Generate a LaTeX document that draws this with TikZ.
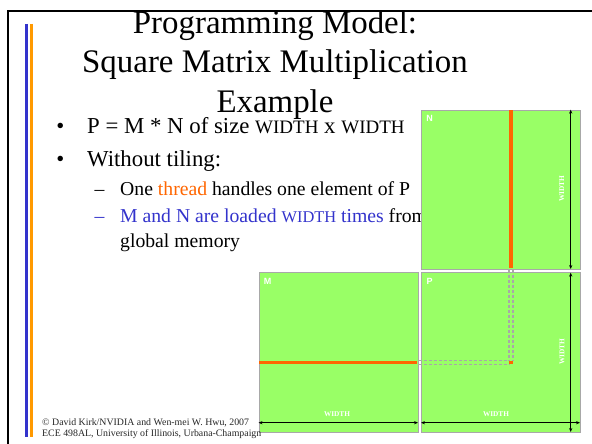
\documentclass[tikz,border=0pt]{standalone}
\usepackage{fontspec}
\setmainfont{Liberation Serif}
\newfontfamily\lblfont{Liberation Sans}
\usetikzlibrary{arrows.meta}
\definecolor{boxgreen}{HTML}{99FF66}
\definecolor{boxgray}{HTML}{A8A8A8}
\definecolor{hiorange}{HTML}{FF6600}
\definecolor{txtblue}{HTML}{3333CC}
\definecolor{barorange}{HTML}{FF9900}
\newcommand\wsmall[1]{{\fontsize{19}{19}\selectfont #1}}
\newcommand\wsub[1]{{\fontsize{16.4}{16.4}\selectfont #1}}
\begin{document}
\begin{tikzpicture}[x=1pt,y=-1pt,
  titletxt/.style={inner sep=0pt, anchor=base, font=\fontsize{32.9}{39}\selectfont},
  bultxt/.style={inner sep=0pt, anchor=base west, font=\fontsize{22.8}{27}\selectfont},
  bulmark/.style={inner sep=0pt, anchor=base, font=\fontsize{22.8}{27}\selectfont},
  subtxt/.style={inner sep=0pt, anchor=base west, font=\fontsize{19.7}{24}\selectfont},
  submark/.style={inner sep=0pt, anchor=base, font=\fontsize{19.7}{24}\selectfont},
  foot/.style={inner sep=0pt, anchor=base west, font=\fontsize{9.85}{10}\selectfont, text=black!85},
  mat/.style={fill=boxgreen, draw=boxgray, line width=1.2pt, inner sep=0pt, anchor=north west},
  boxlbl/.style={inner sep=0pt, text=white, font=\lblfont\bfseries\fontsize{9}{9}\selectfont},
  wlbl/.style={inner sep=0pt, text=white, font=\bfseries\fontsize{7.3}{7.3}\selectfont},
  dimarrow/.style={draw=black, line width=0.9pt, {Stealth[length=4pt,width=3.2pt]}-{Stealth[length=4pt,width=3.2pt]}},
  guide/.style={draw=boxgray, line width=1.1pt, dash pattern=on 3pt off 2pt},
  hilite/.style={fill=hiorange}
]
\useasboundingbox (0,0) rectangle (592,444);
\clip (0,0) rectangle (592,444);
\fill[white] (0,0) rectangle (592,444);
% frame
\draw[line width=2pt] (8,11) rectangle (610,470);
% side bars
\draw[txtblue, line width=2.6pt] (26.5,24) -- (26.5,436.7);
\draw[barorange, line width=2.6pt] (31.2,24) -- (31.2,436.7);
% title
\node[titletxt] (t1) at (275,34) {Programming Model:};
\node[titletxt] (t2) at (275,73) {Square Matrix Multiplication};
\node[titletxt] (t3) at (275,112) {Example};
% bullets
\node[bulmark] (b1m) at (60.3,133) {•};
\node[bultxt] (b1) at (87,133) {P = M * N of size \wsmall{WIDTH} x \wsmall{WIDTH}};
\node[bulmark] (b2m) at (60.3,166) {•};
\node[bultxt] (b2) at (87,166) {Without tiling:};
\node[submark] (s1m) at (99.5,195) {–};
\node[subtxt] (s1) at (120,195) {One \textcolor{hiorange}{thread} handles one element of P};
\node[submark, text=txtblue] (s2m) at (99.5,222) {–};
\node[subtxt, text=txtblue] (s2) at (120,222) {M and N are loaded \wsub{WIDTH} times \textcolor{black}{from}};
\node[subtxt] (s3) at (120,247.5) {global memory};
% matrices
\node[mat, minimum width=159pt, minimum height=159.5pt] (N) at (420.5,109.5) {};
\node[mat, minimum width=159.5pt, minimum height=160pt] (M) at (258.5,272.2) {};
\node[mat, minimum width=159.5pt, minimum height=160pt] (P) at (420.5,272.2) {};
% highlighted column and row
\fill[hilite] (509.2,110.1) rectangle (512.8,268.4);
\fill[hilite] (259.1,361) rectangle (417.4,364.4);
% guides inside P
\draw[guide] (509,269.5) -- (509,360.9);
\draw[guide] (513,269.5) -- (513,360.9);
\draw[guide] (418.5,360.9) -- (509,360.9);
\draw[guide] (418.5,364.5) -- (509,364.5);
\fill[hilite] (509.2,361) rectangle (512.8,364.4);
% box letters
\node[boxlbl] (Nl) at (429.7,118.3) {N};
\node[boxlbl] (Ml) at (267.7,281.7) {M};
\node[boxlbl] (Pl) at (429.7,281.7) {P};
% dimension arrows
\coordinate (ma) at (258.5,422.7);
\coordinate (mb) at (418,422.7);
\coordinate (pa) at (421,422.7);
\coordinate (pb) at (580,422.7);
\coordinate (pc) at (570.7,272.7);
\coordinate (pd) at (570.7,432);
\coordinate (na) at (570.7,109.7);
\coordinate (nb) at (570.7,269);
\draw[dimarrow] (ma) -- (mb);
\draw[dimarrow] (pa) -- (pb);
\draw[dimarrow] (pc) -- (pd);
\draw[dimarrow] (na) -- (nb);
% WIDTH labels
\node[wlbl] (mw) at (337,414) {WIDTH};
\node[wlbl] (pw) at (496,414) {WIDTH};
\node[wlbl, rotate=90] (pv) at (562,352) {WIDTH};
\node[wlbl, rotate=90] (nv) at (561.8,189) {WIDTH};
% footer
\node[foot] (f1) at (42,425.7) {© David Kirk/NVIDIA and Wen-mei W. Hwu, 2007};
\node[foot] (f2) at (42,436) {ECE 498AL, University of Illinois, Urbana-Champaign};
\end{tikzpicture}
\end{document}
